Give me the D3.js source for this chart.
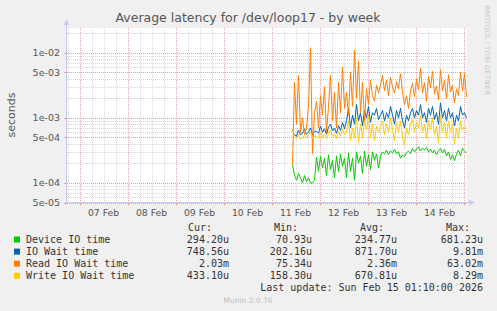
<!DOCTYPE html>
<html>
<head>
<meta charset="utf-8">
<script src="https://cdn.jsdelivr.net/npm/d3@7"></script>
<style>
	body { margin: 0; background: #f0f0f0; }
	svg { display: block; }
</style>
</head>
<body>
<div id="chart"></div>
<script>

// hourly samples, starting Feb 11 10:30 (UTC), values in seconds
const startTime = Date.UTC(2026, 1, 11, 10, 30);

const deviceIO = [
	1.9e-4, 1.3e-4, 1.1e-4, 1.4e-4, 1.2e-4, 1.0e-4, 1.3e-4, 1.05e-4, 1.2e-4, 1.0e-4, 1.0e-4, 1.1e-4,
	2.5e-4, 1.5e-4, 2.6e-4, 1.7e-4, 2.4e-4, 1.3e-4, 2.7e-4, 1.6e-4, 2.2e-4, 1.2e-4, 2.6e-4, 1.5e-4, 2.8e-4, 1.8e-4, 2.4e-4,
	1.2e-4, 2.9e-4, 1.5e-4, 2.4e-4, 1.1e-4, 3.0e-4, 2.0e-4, 2.6e-4, 1.4e-4, 3.1e-4, 1.8e-4, 2.7e-4, 1.6e-4, 3.0e-4, 2.2e-4, 2.8e-4, 1.7e-4,
	2.6e-4, 3.0e-4, 2.8e-4, 3.2e-4, 2.7e-4, 3.1e-4, 2.9e-4, 3.3e-4, 2.8e-4, 3.0e-4, 2.4e-4, 2.7e-4, 2.5e-4, 2.9e-4, 3.1e-4, 2.8e-4,
	3.4e-4, 3.0e-4, 3.3e-4, 3.6e-4, 3.1e-4, 3.4e-4, 3.2e-4, 3.5e-4, 3.0e-4, 3.3e-4, 2.9e-4, 3.2e-4, 2.7e-4, 3.1e-4, 3.4e-4, 2.9e-4,
	3.3e-4, 2.6e-4, 3.0e-4, 2.3e-4, 2.7e-4, 2.2e-4, 2.8e-4, 3.2e-4, 2.6e-4, 3.4e-4, 3.1e-4, 2.9e-4
];

const ioWait = [
	6.5e-4, 5.5e-4, 5.2e-4, 6.5e-4, 5.5e-4, 5.8e-4, 6.8e-4, 5.6e-4, 6.0e-4, 7.0e-4, 5.5e-4, 6.2e-4,
	6.2e-4, 5.8e-4, 7.5e-4, 6.0e-4, 6.8e-4, 5.6e-4, 7.2e-4, 8.0e-4, 6.3e-4, 7.0e-4, 5.8e-4, 7.6e-4, 6.4e-4, 8.5e-4, 6.8e-4,
	9.0e-4, 1.4e-3, 7.0e-4, 1.1e-3, 8.0e-4, 1.6e-3, 9.0e-4, 1.2e-3, 7.5e-4, 1.3e-3, 1.0e-3, 1.5e-3, 8.5e-4, 1.2e-3, 1.1e-3, 1.4e-3, 9.5e-4,
	1.1e-3, 1.3e-3, 9.0e-4, 1.2e-3, 1.0e-3, 1.5e-3, 1.1e-3, 8.0e-4, 1.3e-3, 1.0e-3, 1.4e-3, 9.0e-4, 7.0e-4, 1.1e-3, 9.0e-4, 1.2e-3,
	1.4e-3, 1.0e-3, 1.3e-3, 1.1e-3, 1.6e-3, 1.0e-3, 1.2e-3, 8.5e-4, 1.4e-3, 1.1e-3, 1.5e-3, 9.5e-4, 1.2e-3, 8.0e-4, 1.7e-3, 1.0e-3,
	1.3e-3, 9.0e-4, 1.4e-3, 1.0e-3, 1.2e-3, 7.5e-4, 1.1e-3, 9.0e-4, 1.5e-3, 1.1e-3, 1.2e-3, 1.0e-3
];

const readWait = [
	1.9e-4, 3.5e-3, 8.0e-4, 4.5e-3, 6.0e-4, 1.0e-3, 5.5e-4, 7.0e-4, 1.5e-3, 1.2e-2, 2.8e-4, 1.2e-3,
	1.8e-3, 7.0e-4, 2.2e-3, 1.1e-3, 3.0e-3, 6.0e-4, 1.5e-3, 4.5e-3, 9.0e-4, 2.5e-3, 7.0e-4, 3.5e-3, 1.2e-3, 6.0e-3, 1.4e-3,
	2.5e-3, 1.1e-3, 5.0e-3, 1.5e-3, 1.1e-2, 2.0e-3, 7.5e-3, 1.2e-3, 3.5e-3, 9.0e-4, 2.8e-3, 1.6e-3, 3.8e-3, 2.2e-3, 1.8e-3, 3.2e-3, 2.4e-3,
	3.2e-3, 4.5e-3, 2.6e-3, 3.8e-3, 2.2e-3, 4.2e-3, 3.0e-3, 2.4e-3, 3.6e-3, 2.8e-3, 4.8e-3, 2.5e-3, 1.6e-3, 2.2e-3, 1.4e-3, 2.6e-3,
	3.4e-3, 2.1e-3, 4.0e-3, 2.7e-3, 5.8e-3, 2.4e-3, 3.5e-3, 1.8e-3, 4.4e-3, 2.9e-3, 5.2e-3, 2.3e-3, 3.1e-3, 1.9e-3, 5.5e-3, 2.6e-3,
	3.8e-3, 2.0e-3, 4.6e-3, 2.5e-3, 3.2e-3, 1.7e-3, 2.8e-3, 2.2e-3, 5.0e-3, 2.6e-3, 4.8e-3, 2.1e-3
];

const writeWait = [
	6.8e-4, 5.2e-4, 4.8e-4, 5.5e-4, 4.7e-4, 5.0e-4, 5.3e-4, 4.9e-4, 5.5e-4, 6.0e-4, 4.8e-4, 5.2e-4,
	5.2e-4, 4.9e-4, 6.0e-4, 5.0e-4, 5.6e-4, 4.7e-4, 5.8e-4, 6.5e-4, 5.1e-4, 5.7e-4, 4.8e-4, 6.2e-4, 5.2e-4, 6.8e-4, 5.5e-4,
	6.0e-4, 9.0e-4, 4.5e-4, 7.0e-4, 5.0e-4, 1.0e-3, 4.2e-4, 8.0e-4, 5.0e-4, 9.0e-4, 6.5e-4, 1.1e-3, 5.0e-4, 8.0e-4, 4.4e-4, 7.5e-4, 6.0e-4,
	7.0e-4, 9.0e-4, 5.5e-4, 8.0e-4, 6.0e-4, 1.0e-3, 6.5e-4, 4.5e-4, 8.5e-4, 6.0e-4, 9.0e-4, 5.0e-4, 3.8e-4, 7.0e-4, 5.5e-4, 8.0e-4,
	9.5e-4, 6.0e-4, 8.5e-4, 7.0e-4, 1.1e-3, 6.0e-4, 8.0e-4, 4.8e-4, 9.0e-4, 6.5e-4, 1.0e-3, 5.5e-4, 7.5e-4, 4.2e-4, 1.1e-3, 6.0e-4,
	8.5e-4, 5.0e-4, 9.0e-4, 6.0e-4, 8.0e-4, 4.0e-4, 7.0e-4, 5.0e-4, 9.0e-4, 6.5e-4, 7.5e-4, 6.8e-4
];

const seriesNames = ['Device IO time', 'IO Wait time', 'Read IO Wait time', 'Write IO Wait time'];
const seriesColors = ['#00cc00', '#0066b3', '#ff8000', '#ffcc00'];
const curValues = ['294.20u', '748.56u', '2.03m', '433.10u'];
const minValues = ['70.93u', '202.16u', '75.34u', '158.30u'];
const avgValues = ['234.77u', '871.70u', '2.36m', '670.81u'];
const maxValues = ['681.23u', '9.81m', '63.02m', '8.29m'];

const yMajorTicks = [5e-5, 1e-4, 5e-4, 1e-3, 5e-3, 1e-2];

const W = 497, H = 311;
const plot = { left: 67, right: 467, top: 28, bottom: 202.5 };

const svg = d3.select('#chart').append('svg')
	.attr('width', W)
	.attr('height', H)
	.style('font-family', 'DejaVu Sans, sans-serif');

svg.append('rect').attr('width', W).attr('height', H).attr('fill', '#f0f0f0');

// Feb 7 00:00 sits at x=79.5, 48px per day
const day0 = Date.UTC(2026, 1, 7);
const dayMs = 86400000;
const scaleX = d3.scaleUtc()
	.domain([new Date(day0 - (79.5 - plot.left) / 48 * dayMs), new Date(day0 + (plot.right - 79.5) / 48 * dayMs)])
	.range([plot.left, plot.right]);

const scaleY = d3.scaleLog()
	.domain([5e-5, 0.0241])
	.range([plot.bottom, plot.top]);

svg.append('rect')
	.attr('x', plot.left).attr('y', plot.top)
	.attr('width', plot.right - plot.left).attr('height', plot.bottom - plot.top)
	.attr('fill', '#fff');

//--------------------------------------------------------------
// grid
//--------------------------------------------------------------
let grid = svg.append('g').attr('class', 'grid');

let minorY = [];
[1e-5, 1e-4, 1e-3, 1e-2].forEach((p) => {
	for (let m = 2; m <= 9; m++) {
		if (m == 5) continue;
		let v = m * p;
		if (v > 5e-5 && v < 0.0241) minorY.push(v);
	}
});

grid.selectAll('.hminor').data(minorY).enter().append('line')
	.attr('x1', plot.left).attr('x2', plot.right)
	.attr('y1', (d) => Math.round(scaleY(d)) + 0.5).attr('y2', (d) => Math.round(scaleY(d)) + 0.5)
	.attr('stroke', '#d6d6d6').attr('stroke-dasharray', '1,1');

let hours6 = d3.utcHour.every(6).range(scaleX.domain()[0], scaleX.domain()[1])
	.filter((d) => d.getUTCHours() != 0);

grid.selectAll('.vminor').data(hours6).enter().append('line')
	.attr('y1', plot.top).attr('y2', plot.bottom)
	.attr('x1', (d) => Math.round(scaleX(d)) + 0.5).attr('x2', (d) => Math.round(scaleX(d)) + 0.5)
	.attr('stroke', '#d6d6d6').attr('stroke-dasharray', '1,1');

grid.selectAll('.hmajor').data(yMajorTicks).enter().append('line')
	.attr('x1', plot.left).attr('x2', plot.right)
	.attr('y1', (d) => Math.round(scaleY(d)) + 0.5).attr('y2', (d) => Math.round(scaleY(d)) + 0.5)
	.attr('stroke', '#eaa0a0').attr('stroke-dasharray', '1,1');

let days = d3.utcDay.range(scaleX.domain()[0], scaleX.domain()[1]);

grid.selectAll('.vmajor').data(days).enter().append('line')
	.attr('y1', plot.top).attr('y2', plot.bottom)
	.attr('x1', (d) => Math.round(scaleX(d)) + 0.5).attr('x2', (d) => Math.round(scaleX(d)) + 0.5)
	.attr('stroke', '#eaa0a0').attr('stroke-dasharray', '1,1');

//--------------------------------------------------------------
// series
//--------------------------------------------------------------
const allSeries = [deviceIO, ioWait, readWait, writeWait];

let line = d3.line()
	.x((d, i) => scaleX(new Date(startTime + i * 3600000)))
	.y((d) => scaleY(d));

allSeries.forEach((s, k) => {
	svg.append('path')
		.datum(s)
		.attr('d', line)
		.attr('fill', 'none')
		.attr('stroke', seriesColors[k])
		.attr('stroke-width', 1);
});

//--------------------------------------------------------------
// axes
//--------------------------------------------------------------
const axisColor = '#c8c8f8';

svg.append('line')
	.attr('x1', plot.left - 0.5).attr('x2', plot.left - 0.5)
	.attr('y1', plot.bottom + 2).attr('y2', 24)
	.attr('stroke', axisColor);
svg.append('path')
	.attr('d', `M${plot.left - 3.5},25 L${plot.left - 0.5},19 L${plot.left + 2.5},25 Z`)
	.attr('fill', axisColor);

svg.append('line')
	.attr('x1', plot.left - 2).attr('x2', 470)
	.attr('y1', plot.bottom).attr('y2', plot.bottom)
	.attr('stroke', axisColor);
svg.append('path')
	.attr('d', `M469,${plot.bottom - 3} L475,${plot.bottom} L469,${plot.bottom + 3} Z`)
	.attr('fill', axisColor);

// small ticks
svg.selectAll('.ytick').data(yMajorTicks).enter().append('line')
	.attr('x1', plot.left - 3).attr('x2', plot.left)
	.attr('y1', (d) => Math.round(scaleY(d)) + 0.5).attr('y2', (d) => Math.round(scaleY(d)) + 0.5)
	.attr('stroke', '#eaa0a0');

svg.selectAll('.xtick').data(days).enter().append('line')
	.attr('y1', plot.bottom).attr('y2', plot.bottom + 3)
	.attr('x1', (d) => Math.round(scaleX(d)) + 0.5).attr('x2', (d) => Math.round(scaleX(d)) + 0.5)
	.attr('stroke', '#eaa0a0');

let fmtExp = (v) => {
	let [m, e] = v.toExponential(0).split('e');
	let n = Math.abs(+e);
	return m + 'e' + (+e < 0 ? '-' : '+') + (n < 10 ? '0' + n : n);
};

svg.selectAll('.ylabel').data(yMajorTicks).enter().append('text')
	.attr('x', 60)
	.attr('y', (d) => scaleY(d) + 3.5)
	.attr('text-anchor', 'end')
	.attr('font-size', '9.5px')
	.attr('fill', '#555')
	.text(fmtExp);

let noons = days.map((d) => new Date(+d + dayMs / 2)).filter((d) => scaleX(d) < plot.right);

svg.selectAll('.xlabel').data(noons).enter().append('text')
	.attr('x', (d) => scaleX(d))
	.attr('y', 216)
	.attr('text-anchor', 'middle')
	.attr('font-size', '9.3px')
	.attr('fill', '#555')
	.text(d3.utcFormat('%d %b'));

//--------------------------------------------------------------
// titles
//--------------------------------------------------------------
svg.append('text')
	.attr('x', 248).attr('y', 22)
	.attr('text-anchor', 'middle')
	.attr('font-size', '12.5px')
	.attr('fill', '#555')
	.text('Average latency for /dev/loop17 - by week');

svg.append('text')
	.attr('transform', 'translate(15,115) rotate(-90)')
	.attr('text-anchor', 'middle')
	.attr('font-size', '11px')
	.attr('fill', '#555')
	.text('seconds');

svg.append('text')
	.attr('transform', 'translate(485,5) rotate(90)')
	.attr('font-size', '7px')
	.attr('fill', '#c8c8c8')
	.text('RRDTOOL / TOBI OETIKER');

//--------------------------------------------------------------
// legend
//--------------------------------------------------------------
let legend = svg.append('g')
	.style('font-family', 'DejaVu Sans Mono, monospace')
	.style('font-size', '10px')
	.attr('fill', '#333');

[['Cur:', 212], ['Min:', 298], ['Avg:', 384], ['Max:', 470]].forEach((h) => {
	legend.append('text').attr('x', h[1]).attr('y', 231).attr('text-anchor', 'end').text(h[0]);
});

let cols = [[curValues, 229], [minValues, 312], [avgValues, 397], [maxValues, 483]];

seriesNames.forEach((name, i) => {
	let y = 243 + i * 12.1;
	legend.append('rect')
		.attr('x', 14).attr('y', y - 6.5)
		.attr('width', 6).attr('height', 6)
		.attr('fill', seriesColors[i]);
	legend.append('text').attr('x', 26).attr('y', y).text(name);
	cols.forEach((c) => {
		legend.append('text').attr('x', c[1]).attr('y', y).attr('text-anchor', 'end').text(c[0][i]);
	});
});

legend.append('text')
	.attr('x', 483).attr('y', 291)
	.attr('text-anchor', 'end')
	.text('Last update: Sun Feb 15 01:10:00 2026');

svg.append('text')
	.attr('x', 248).attr('y', 303)
	.attr('text-anchor', 'middle')
	.attr('font-size', '7.5px')
	.attr('fill', '#c0c0c0')
	.text('Munin 2.0.76');

</script>
</body>
</html>
